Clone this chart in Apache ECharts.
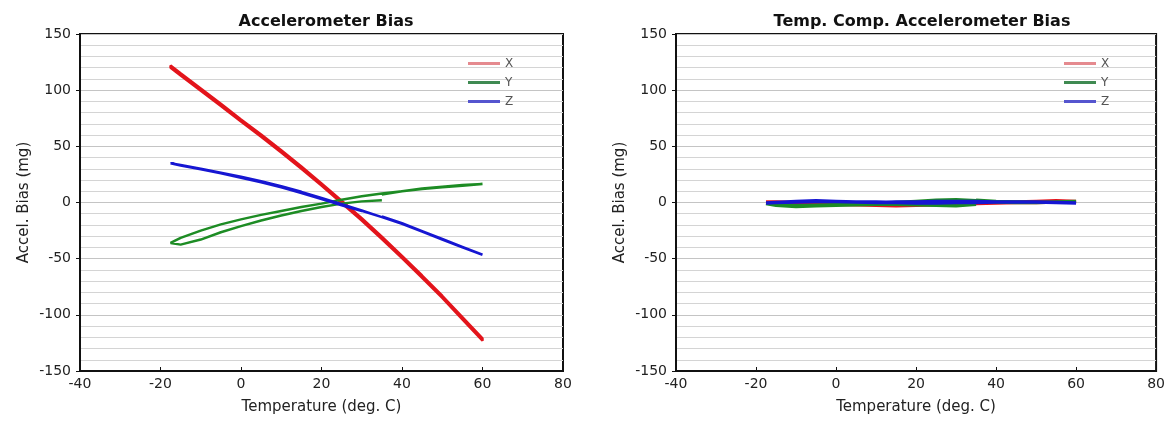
<!DOCTYPE html>
<html>
<head>
<meta charset="utf-8">
<script src="https://cdn.jsdelivr.net/npm/echarts@6/dist/echarts.min.js"></script>
<style>
  html, body { margin: 0; padding: 0; background: #fff; }
  #chart { width: 1168px; height: 428px; }
</style>
</head>
<body>
<div id="chart"></div>
<script>
// Temperature sweep: heat 35 -> 60, cool 60 -> -17.5, heat -17.5 -> 35 (deg. C)
const tempPath = [
  35, 40, 45, 50, 55, 60,
  60, 55, 50, 45, 40, 35, 30, 25, 20, 15, 10, 5, 0, -5, -10, -15, -17.5,
  -17.5, -15, -10, -5, 0, 5, 10, 15, 20, 25, 30, 35
];

// Raw accelerometer bias (mg) along the sweep
const rawX = [
  -32.5, -49.5, -67, -85, -104, -123,
  -121, -102, -83, -65, -47.5, -30.5, -14, 1.5, 17, 32, 46.5, 60.5, 74, 88, 101.5, 115, 122,
  120, 113, 99.5, 86, 72, 58.5, 44.5, 30, 15, -0.5, -16, -32.5
];
const rawY = [
  7, 10, 12.5, 14, 15.5, 16.5,
  16.5, 15, 13.5, 12, 10, 8, 5.5, 2.5, -1, -4, -7.5, -11, -15, -19.5, -25, -31.5, -36,
  -37, -37.5, -33, -26.5, -21, -16, -11.5, -7.5, -4, -1, 1, 2
];
const rawZ = [
  -12.5, -18.5, -25.5, -32.5, -39.5, -46.5,
  -47, -40, -33, -26, -19, -13, -7, -1.5, 4, 9.5, 14.5, 19, 23, 26.5, 30, 33.5, 35,
  34.5, 33, 29.5, 26, 22, 18, 13.5, 8.5, 3, -2.5, -7.5, -13
];

// Temperature-compensated bias (mg) along the same sweep
const compX = [
  0, 0.5, 0.5, 1, 1.5, 1,
  1, 0.5, 0, 0, -0.5, -1, -1.5, -2, -2.5, -2.5, -2, -1.5, -1, -0.5, 0, 0.5, 0.5,
  0.5, 0, -0.5, -1, -1.5, -2, -2.5, -3, -2.5, -2, -1.5, -1
];
const compY = [
  2, 1, 0.5, 0, 0.5, 1,
  1, 0.5, 0, 0, 0.5, 1.5, 2.5, 2, 1, 0, -1, -1.5, -2, -2.5, -3, -2, -1,
  -1, -2.5, -3.5, -3, -2.5, -2, -1.5, -1.5, -2, -2.5, -3, -1.5
];
const compZ = [
  0, 0.5, 0.5, 0.5, 0, -0.5,
  -0.5, 0, 0.5, 0.5, 0.5, 1, 1, 1, 0.5, 0.5, 0, 0.5, 1, 1, 0.5, 0, -0.5,
  -0.5, 0, 1, 1.5, 1, 0.5, 0.5, 0, -0.5, -0.5, 0, 0
];

const axisNames = ['X', 'Y', 'Z'];
const axisColors = ['#e3141b', '#1d8c24', '#1616d2'];
const legendColors = ['#e58a8f', '#3f8a52', '#5555cf'];
const titles = ['Accelerometer Bias', 'Temp. Comp. Accelerometer Bias'];
const xTitle = 'Temperature (deg. C)';
const yTitle = 'Accel. Bias (mg)';

const FONT = '"DejaVu Sans", Verdana, sans-serif';

function pairs(values) {
  return tempPath.map((t, i) => [t, values[i]]);
}

const grids = [
  { left: 80, right: 605, top: 34, bottom: 57 },
  { left: 676, right: 10, top: 34, bottom: 57 }
];

function xAxisFor(i) {
  return {
    gridIndex: i, type: 'value', min: -40, max: 80, interval: 20,
    name: xTitle, nameLocation: 'middle', nameGap: 29,
    nameTextStyle: { fontFamily: FONT, fontSize: 15, color: '#222' },
    axisLine: { show: true, onZero: false, lineStyle: { color: '#111', width: 2 } },
    axisTick: { show: true, inside: true, length: 4, lineStyle: { color: '#111' } },
    axisLabel: { fontFamily: FONT, fontSize: 14, color: '#222', margin: 6 },
    splitLine: { show: false }
  };
}

function yAxisFor(i) {
  return {
    gridIndex: i, type: 'value', min: -150, max: 150, interval: 50,
    name: yTitle, nameLocation: 'middle', nameGap: 48, nameRotate: 90,
    nameTextStyle: { fontFamily: FONT, fontSize: 15, color: '#222' },
    axisLine: { show: true, onZero: false, lineStyle: { color: '#111', width: 2 } },
    axisTick: { show: true, length: 4, lineStyle: { color: '#111' } },
    axisLabel: { fontFamily: FONT, fontSize: 14, color: '#222', margin: 9 },
    splitLine: { show: true, lineStyle: { color: '#c4c4c4', width: 1 } },
    minorTick: { show: false, splitNumber: 5 },
    minorSplitLine: { show: true, lineStyle: { color: '#d4d4d4', width: 1 } }
  };
}

const rawSets = [rawX, rawY, rawZ];
const compSets = [compX, compY, compZ];

const series = [];
[rawSets, compSets].forEach((sets, g) => {
  sets.forEach((vals, k) => {
    series.push({
      name: axisNames[k],
      type: 'line',
      xAxisIndex: g, yAxisIndex: g,
      data: pairs(vals),
      showSymbol: false,
      symbol: 'none',
      lineStyle: { color: axisColors[k], width: g === 0 ? 2.5 : 3.5 },
      itemStyle: { color: axisColors[k] },
      z: 3 + k,
      animation: false
    });
  });
});

function legendAt(left) {
  return {
    orient: 'vertical', left: left, top: 56, padding: 0,
    itemWidth: 32, itemHeight: 3, itemGap: 4,
    icon: 'rect',
    data: axisNames.map((n, k) => ({ name: n, itemStyle: { color: legendColors[k] } })),
    textStyle: { fontFamily: FONT, fontSize: 12, color: '#555', lineHeight: 15 },
    selectedMode: false
  };
}

const option = {
  backgroundColor: '#fff',
  animation: false,
  title: [
    { text: titles[0], left: 321, top: 9, textAlign: 'center',
      textStyle: { fontFamily: FONT, fontSize: 16, fontWeight: 'bold', color: '#111' } },
    { text: titles[1], left: 917, top: 9, textAlign: 'center',
      textStyle: { fontFamily: FONT, fontSize: 16, fontWeight: 'bold', color: '#111' } }
  ],
  grid: grids.map(g => Object.assign({ show: true, borderColor: '#111', borderWidth: 2, backgroundColor: '#fff' }, g)),
  xAxis: [xAxisFor(0), xAxisFor(1)],
  yAxis: [yAxisFor(0), yAxisFor(1)],
  legend: [legendAt(468), legendAt(1064)],
  series: series
};

const chart = echarts.init(document.getElementById('chart'), null, { renderer: 'canvas' });
chart.setOption(option);
</script>
</body>
</html>
